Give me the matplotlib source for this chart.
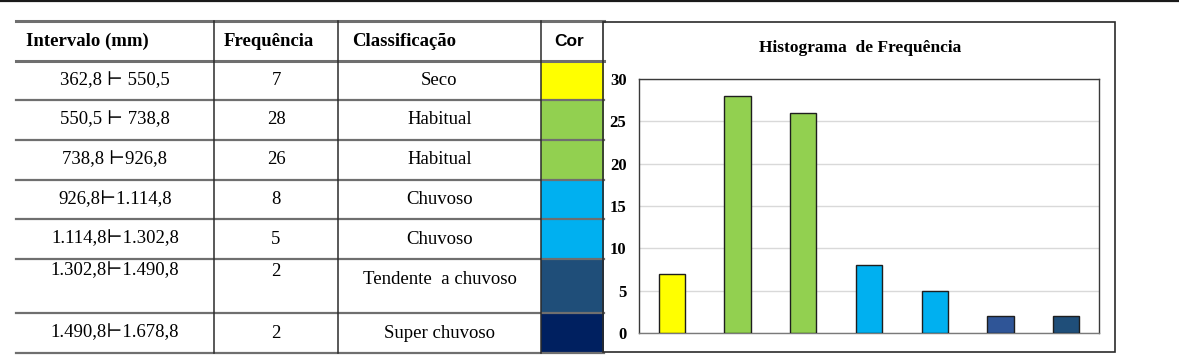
import matplotlib
matplotlib.use("Agg")
import matplotlib.pyplot as plt
from matplotlib.patches import Rectangle

# ---- data ----
intervals = ["362,8 \u22a2 550,5", "550,5 \u22a2 738,8", "738,8 \u22a2926,8",
             "926,8\u22a21.114,8", "1.114,8\u22a21.302,8", "1.302,8\u22a21.490,8",
             "1.490,8\u22a21.678,8"]
frequencies = [7, 28, 26, 8, 5, 2, 2]
classes = ["Seco", "Habitual", "Habitual", "Chuvoso", "Chuvoso",
           "Tendente  a chuvoso", "Super chuvoso"]
table_colors = ["#FFFF00", "#92D050", "#92D050", "#00B0F0", "#00B0F0",
                "#1F4E79", "#002060"]
bar_colors = ["#FFFF00", "#92D050", "#92D050", "#00B0F0", "#00B0F0",
              "#2F5597", "#1F4E79"]
headers = ["Intervalo (mm)", "Frequência", "Classificação", "Cor"]
title = "Histograma  de Frequência"
yticks = [0, 5, 10, 15, 20, 25, 30]

W, H = 1179, 362
fig = plt.figure(figsize=(W / 100, H / 100), dpi=100)
bg = fig.add_axes([0, 0, 1, 1])
bg.set_xlim(0, W)
bg.set_ylim(H, 0)
bg.axis("off")

serif = ["Liberation Serif", "DejaVu Serif"]

# top rule
bg.plot([0, W], [0.8, 0.8], color="#1a1a1a", lw=1.6)

# table geometry (pixels)
col_x = [16, 214, 338, 541, 604]
row_y = [21, 61, 100, 140, 180, 219, 259, 313, 353]

# colour cells
for i, c in enumerate(table_colors):
    bg.add_patch(Rectangle((col_x[3], row_y[i + 1]), col_x[4] - col_x[3],
                           row_y[i + 2] - row_y[i + 1], facecolor=c,
                           edgecolor="none", zorder=1))

# horizontal lines
for k, y in enumerate(row_y):
    lw = 2.2 if k in (0, 1) else 1.6
    bg.plot([col_x[0], col_x[4]], [y, y], color="#6f6f6f", lw=lw, zorder=3)
# vertical lines
for x in col_x[1:4]:
    bg.plot([x, x], [row_y[0], row_y[-1]], color="#2b2b2b", lw=1.1, zorder=3)

# headers
hy = (row_y[0] + row_y[1]) / 2
bg.text(26, hy, headers[0], fontfamily=serif, fontweight="bold", fontsize=13.5,
        ha="left", va="center")
bg.text(224, hy, headers[1], fontfamily=serif, fontweight="bold", fontsize=13.5,
        ha="left", va="center")
bg.text(352, hy, headers[2], fontfamily=serif, fontweight="bold", fontsize=13.5,
        ha="left", va="center")
bg.text((col_x[3] + col_x[4]) / 2 - 3, hy, headers[3], fontfamily="Liberation Sans",
        fontweight="bold", fontsize=12.5, ha="center", va="center")

# rows
for i in range(len(intervals)):
    yc = (row_y[i + 1] + row_y[i + 2]) / 2
    yl = yc
    ycl = yc
    if i == 5:
        yl = row_y[i + 1] + 12
        ycl = row_y[i + 1] + 21
    bg.text((col_x[0] + col_x[1]) / 2, yl, intervals[i], fontfamily=serif,
            fontsize=13.5, ha="center", va="center")
    bg.text((col_x[1] + col_x[2]) / 2, yl, str(frequencies[i]), fontfamily=serif,
            fontsize=13.5, ha="center", va="center")
    bg.text((col_x[2] + col_x[3]) / 2, ycl, classes[i], fontfamily=serif,
            fontsize=13.5, ha="center", va="center")

# chart panel border
bg.add_patch(Rectangle((603, 22), 1115 - 603, 352 - 22, facecolor="none",
                       edgecolor="#2b2b2b", lw=1.2, zorder=4))
bg.text(860, 48, title, fontfamily=serif, fontweight="bold", fontsize=12.5,
        ha="center", va="center")

# chart axes
pl, pr, pt, pb = 639, 1099, 79, 333
ax = fig.add_axes([pl / W, 1 - pb / H, (pr - pl) / W, (pb - pt) / H])
x = list(range(len(frequencies)))
ax.bar(x, frequencies, width=0.4, color=bar_colors, edgecolor="#1e1e1e",
       linewidth=1.0, zorder=3)
ax.set_xlim(-0.5, len(frequencies) - 0.5)
ax.set_ylim(0, 30)
ax.set_yticks(yticks)
ax.set_yticklabels([str(t) for t in yticks], fontfamily=serif,
                   fontweight="bold", fontsize=12)
ax.tick_params(axis="y", length=0, pad=9)
ax.set_xticks([])
ax.grid(axis="y", color="#d9d9d9", lw=1.0, zorder=0)
for s in ax.spines.values():
    s.set_color("#3a3a3a")
    s.set_linewidth(1.0)
ax.spines["bottom"].set_color("#7a7a7a")

fig.savefig("out.png", dpi=100)
